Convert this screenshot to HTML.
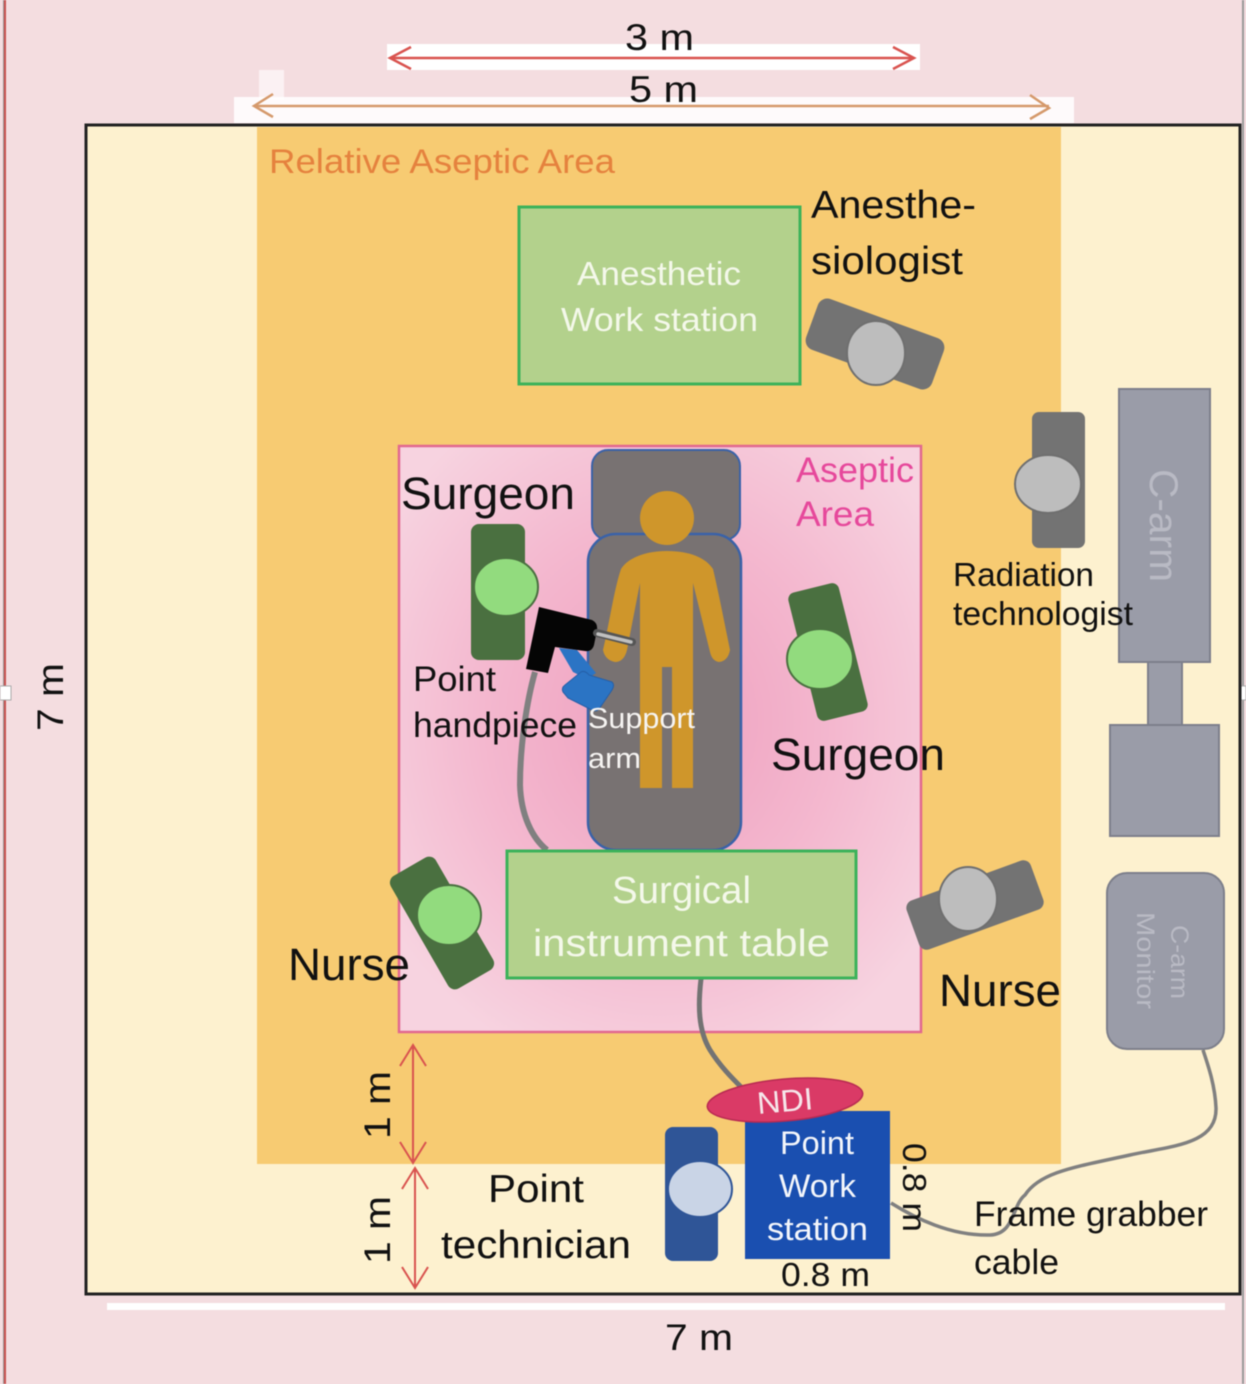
<!DOCTYPE html>
<html><head><meta charset="utf-8"><style>
html,body{margin:0;padding:0;background:#f4dde0}
svg{display:block;filter:blur(.6px)}
text{font-family:"Liberation Sans",sans-serif;fill:#111}
</style></head><body>
<svg width="1246" height="1384" viewBox="0 0 1246 1384" xmlns="http://www.w3.org/2000/svg">
<defs>
<radialGradient id="pk" cx="50%" cy="47%" r="62%"><stop offset="0" stop-color="#ef9fbe"/><stop offset="0.55" stop-color="#f4b8cf"/><stop offset="1" stop-color="#f7d3e0"/></radialGradient>
</defs>
<rect width="1246" height="1384" fill="#f4dde0"/>
<rect x="4" y="0" width="2" height="1384" fill="#c8504f"/>
<rect x="3" y="0" width="1" height="1384" fill="#999"/>
<rect x="1242" y="0" width="2" height="1384" fill="#999"/>
<rect x="0" y="686" width="11" height="14" fill="#fff" stroke="#aaa"/>
<rect x="1235" y="686" width="11" height="14" fill="#fff" stroke="#aaa"/>

<!-- white arrow patches -->
<rect x="387" y="44" width="533" height="26" fill="#fff"/>
<rect x="234" y="97" width="840" height="26" fill="#fff" opacity=".85"/>
<rect x="259" y="70" width="25" height="30" fill="#fff" opacity=".6"/>
<rect x="107" y="1303" width="1118" height="7" fill="#fff"/>

<!-- room -->
<rect x="86" y="125" width="1154" height="1169" fill="#fdf1cf" stroke="#222" stroke-width="3"/>
<rect x="257" y="127" width="804" height="1037" fill="#f7cb72"/>
<text x="269" y="173" font-size="34" style="fill:#e5823e" textLength="346" lengthAdjust="spacingAndGlyphs">Relative Aseptic Area</text>

<!-- 3m / 5m arrows -->
<g fill="none" stroke="#d9534f" stroke-width="2.5">
<path d="M390 58H914"/><path d="M411 47L390 58L411 69"/><path d="M893 47L914 58L893 69"/>
</g>
<g fill="none" stroke="#d5996b" stroke-width="2.5">
<path d="M254 106H1049"/><path d="M273 94L254 106L273 117"/><path d="M1030 95L1049 108L1030 119"/>
</g>
<text x="625" y="50" font-size="37" textLength="69" lengthAdjust="spacingAndGlyphs">3 m</text>
<text x="629" y="102" font-size="37" textLength="69" lengthAdjust="spacingAndGlyphs">5 m</text>
<text x="665" y="1350" font-size="37" textLength="68" lengthAdjust="spacingAndGlyphs">7 m</text>
<text transform="translate(63,731) rotate(-90)" font-size="37" textLength="68" lengthAdjust="spacingAndGlyphs">7 m</text>

<!-- Anesthetic work station -->
<rect x="519" y="207" width="281" height="177" fill="#b3d18c" stroke="#3cb25a" stroke-width="3"/>
<text x="577" y="285" font-size="33" style="fill:#f4f8ea" textLength="164" lengthAdjust="spacingAndGlyphs">Anesthetic</text>
<text x="561" y="331" font-size="33" style="fill:#f4f8ea" textLength="197" lengthAdjust="spacingAndGlyphs">Work station</text>
<text x="811" y="218" font-size="39" textLength="165" lengthAdjust="spacingAndGlyphs">Anesthe-</text>
<text x="811" y="274" font-size="39" textLength="152" lengthAdjust="spacingAndGlyphs">siologist</text>
<g transform="translate(875,344) rotate(20)"><rect x="-67" y="-27" width="134" height="54" rx="10" fill="#737373"/></g>
<ellipse cx="876" cy="353" rx="29" ry="32" fill="#bdbdbd" stroke="#6f6f6f" stroke-width="2"/>

<!-- Aseptic area -->
<rect x="399" y="446" width="522" height="586" fill="url(#pk)" stroke="#e2688f" stroke-width="2.5"/>
<text x="796" y="482" font-size="35" style="fill:#e6489b" textLength="118" lengthAdjust="spacingAndGlyphs">Aseptic</text>
<text x="796" y="526" font-size="35" style="fill:#e6489b" textLength="78" lengthAdjust="spacingAndGlyphs">Area</text>

<!-- Bed -->
<rect x="592" y="450" width="148" height="90" rx="16" fill="#787272" stroke="#3a62a8" stroke-width="2"/>
<rect x="588" y="534" width="153" height="316" rx="28" fill="#787272" stroke="#3a62a8" stroke-width="2.5"/>
<!-- Person -->
<g fill="#cf962b">
<circle cx="667" cy="518" r="27"/>
<path d="M667 551C690 551 706 558 713 569C718 590 724 620 730 650Q728 661 719 662Q712 661 710 652L693 583V788H672V667H662V788H640V583L627 650Q624 662 615 662Q605 660 603 650C610 620 614 590 621 569C628 558 645 551 667 551Z"/>
</g>

<!-- Surgeon left -->
<rect x="471" y="524" width="54" height="136" rx="8" fill="#4a7040"/>
<ellipse cx="506" cy="587" rx="32" ry="29" fill="#92db7e" stroke="#4a7040" stroke-width="2"/>
<text x="401" y="509" font-size="45" textLength="174" lengthAdjust="spacingAndGlyphs">Surgeon</text>

<!-- handpiece cable -->
<path d="M535 672C527 700 520 745 520 785C521 815 532 838 547 850" fill="none" stroke="#808080" stroke-width="6"/>
<!-- support arm -->
<path d="M559 648L577 650L596 673L587 679L573 672Z" fill="#2b74c4"/>
<path d="M563 692Q561 688 565 685L581 672Q585 670 589 675L612 682Q615 685 612 690L599 709Q596 712 592 710L568 698Z" fill="#2b74c4" stroke="#255fa8" stroke-width="1"/>
<!-- handpiece -->
<path d="M539 607L592 620Q598 623 597 630L594 645Q592 652 585 651L555 647L548 673L526 669Z" fill="#050505"/>
<path d="M597 633L632 642" stroke="#555" stroke-width="8" stroke-linecap="round"/>
<path d="M598 634L631 642" stroke="#c0c0c0" stroke-width="3.5" stroke-linecap="round"/>

<text x="413" y="691" font-size="35" textLength="83" lengthAdjust="spacingAndGlyphs">Point</text>
<text x="413" y="737" font-size="35" textLength="164" lengthAdjust="spacingAndGlyphs">handpiece</text>
<text x="588" y="728" font-size="29" style="fill:#f6f4f2" textLength="107" lengthAdjust="spacingAndGlyphs">Support</text>
<text x="588" y="768" font-size="29" style="fill:#f6f4f2" textLength="53" lengthAdjust="spacingAndGlyphs">arm</text>

<!-- Surgeon right -->
<g transform="translate(828,652) rotate(-14)"><rect x="-26" y="-66" width="52" height="132" rx="7" fill="#4a7040"/></g>
<ellipse cx="820" cy="659" rx="33" ry="30" fill="#92db7e" stroke="#4a7040" stroke-width="2"/>
<text x="771" y="770" font-size="45" textLength="174" lengthAdjust="spacingAndGlyphs">Surgeon</text>

<!-- Radiation tech -->
<rect x="1032" y="412" width="53" height="136" rx="7" fill="#737373"/>
<ellipse cx="1048" cy="484" rx="33" ry="29" fill="#bdbdbd" stroke="#6f6f6f" stroke-width="2"/>

<!-- C-arm -->
<rect x="1119" y="389" width="91" height="273" fill="#9a9ca8" stroke="#7d7f8b" stroke-width="2"/>
<rect x="1148" y="662" width="34" height="64" fill="#9a9ca8" stroke="#7d7f8b" stroke-width="2"/>
<rect x="1110" y="725" width="109" height="111" fill="#9a9ca8" stroke="#7d7f8b" stroke-width="2"/>
<text transform="translate(1150,469) rotate(90)" font-size="40" style="fill:#b9bac4" textLength="113" lengthAdjust="spacingAndGlyphs">C-arm</text>
<text x="953" y="586" font-size="33" textLength="141" lengthAdjust="spacingAndGlyphs">Radiation</text>
<text x="953" y="625" font-size="33" textLength="180" lengthAdjust="spacingAndGlyphs">technologist</text>
<rect x="1107" y="873" width="117" height="176" rx="20" fill="#9a9ca8" stroke="#7d7f8b" stroke-width="2"/>
<text transform="translate(1171,925) rotate(90)" font-size="25" style="fill:#b9bac4" textLength="74" lengthAdjust="spacingAndGlyphs">C-arm</text>
<text transform="translate(1137,912) rotate(90)" font-size="25" style="fill:#b9bac4" textLength="97" lengthAdjust="spacingAndGlyphs">Monitor</text>

<!-- instrument table cables -->
<path d="M701 979C698 1005 698 1030 710 1050C720 1066 732 1078 742 1088" fill="none" stroke="#737373" stroke-width="5"/>
<!-- instrument table -->
<rect x="507" y="851" width="349" height="127" fill="#b3d18c" stroke="#3cb25a" stroke-width="3"/>
<text x="612" y="903" font-size="38" style="fill:#f4f8ea" textLength="139" lengthAdjust="spacingAndGlyphs">Surgical</text>
<text x="533" y="956" font-size="38" style="fill:#f4f8ea" textLength="297" lengthAdjust="spacingAndGlyphs">instrument table</text>

<!-- Nurse left -->
<g transform="translate(442,923) rotate(-30)"><rect x="-26" y="-65" width="52" height="130" rx="8" fill="#4a7040"/></g>
<ellipse cx="449" cy="915" rx="32" ry="30" fill="#92db7e" stroke="#4a7040" stroke-width="2"/>
<text x="288" y="980" font-size="45" textLength="122" lengthAdjust="spacingAndGlyphs">Nurse</text>

<!-- Nurse right -->
<g transform="translate(975,905) rotate(-20)"><rect x="-66" y="-26" width="132" height="52" rx="8" fill="#737373"/></g>
<ellipse cx="968" cy="899" rx="29" ry="32" fill="#bdbdbd" stroke="#6f6f6f" stroke-width="2"/>
<text x="939" y="1006" font-size="45" textLength="122" lengthAdjust="spacingAndGlyphs">Nurse</text>

<!-- 1 m arrows -->
<g fill="none" stroke="#d9534f" stroke-width="2">
<path d="M413 1045V1163"/><path d="M400 1066L413 1045L426 1066"/><path d="M400 1142L413 1163L426 1142"/>
<path d="M415 1168V1288"/><path d="M402 1189L415 1168L428 1189"/><path d="M402 1267L415 1288L428 1267"/>
</g>
<text transform="translate(390,1139) rotate(-90)" font-size="37" textLength="68" lengthAdjust="spacingAndGlyphs">1 m</text>
<text transform="translate(390,1264) rotate(-90)" font-size="37" textLength="68" lengthAdjust="spacingAndGlyphs">1 m</text>

<text x="488" y="1202" font-size="39" textLength="96" lengthAdjust="spacingAndGlyphs">Point</text>
<text x="441" y="1258" font-size="39" textLength="190" lengthAdjust="spacingAndGlyphs">technician</text>

<!-- Technician -->
<rect x="665" y="1127" width="53" height="134" rx="8" fill="#2f5597"/>
<ellipse cx="700" cy="1189" rx="32" ry="28" fill="#c9d4e6" stroke="#2f5597" stroke-width="2"/>

<!-- frame grabber cable -->
<path d="M891 1203C915 1218 950 1236 990 1235C1015 1234 1012 1205 1025 1195C1040 1172 1075 1167 1130 1155C1170 1146 1217 1145 1216 1108C1215 1085 1208 1065 1203 1050" fill="none" stroke="#808080" stroke-width="3.5"/>

<!-- Point workstation -->
<rect x="745" y="1111" width="145" height="148" fill="#1a4fb0"/>
<ellipse cx="785" cy="1100" rx="78" ry="21" transform="rotate(-5 785 1100)" fill="#da3a66" stroke="#b82a52" stroke-width="1.5"/>
<text transform="translate(758,1114) rotate(-5)" font-size="31" style="fill:#f6e6ea" textLength="56" lengthAdjust="spacingAndGlyphs">NDI</text>
<text x="780" y="1154" font-size="32" style="fill:#f4f6fb" textLength="74" lengthAdjust="spacingAndGlyphs">Point</text>
<text x="779" y="1197" font-size="32" style="fill:#f4f6fb" textLength="77" lengthAdjust="spacingAndGlyphs">Work</text>
<text x="767" y="1240" font-size="32" style="fill:#f4f6fb" textLength="101" lengthAdjust="spacingAndGlyphs">station</text>
<text x="781" y="1286" font-size="33" textLength="89" lengthAdjust="spacingAndGlyphs">0.8 m</text>
<text transform="translate(903,1143) rotate(90)" font-size="33" textLength="89" lengthAdjust="spacingAndGlyphs">0.8 m</text>

<text x="974" y="1226" font-size="35" textLength="234" lengthAdjust="spacingAndGlyphs">Frame grabber</text>
<text x="974" y="1274" font-size="35" textLength="85" lengthAdjust="spacingAndGlyphs">cable</text>
</svg>
</body></html>
